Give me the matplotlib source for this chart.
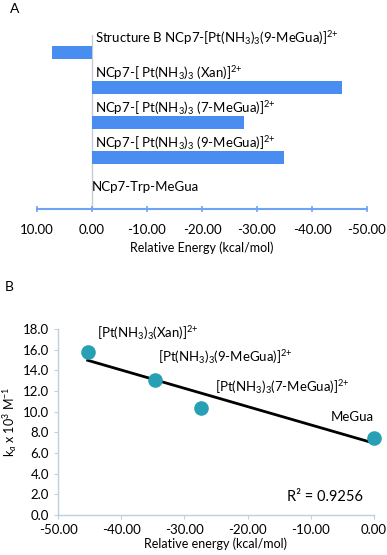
import numpy as np
import matplotlib
matplotlib.use("Agg")
import matplotlib.pyplot as plt

plt.rcParams['font.family'] = ['Lato', 'DejaVu Sans']
plt.rcParams['mathtext.fontset'] = 'custom'
plt.rcParams['mathtext.rm'] = 'Lato'
plt.rcParams['mathtext.it'] = 'Lato:italic'
plt.rcParams['mathtext.bf'] = 'Lato:bold'
plt.rcParams['axes.unicode_minus'] = False

# panel A data (top to bottom)
a_labels = [r"Structure B NCp7-[Pt(NH$_3$)$_3$(9-MeGua)]$^{2{+}}$",
            r"NCp7-[ Pt(NH$_3$)$_3$ (Xan)]$^{2{+}}$",
            r"NCp7-[ Pt(NH$_3$)$_3$ (7-MeGua)]$^{2{+}}$",
            r"NCp7-[ Pt(NH$_3$)$_3$ (9-MeGua)]$^{2{+}}$",
            "NCp7-Trp-MeGua"]
a_energy = [7.2, -45.5, -27.6, -34.9, 0.0]
a_ticks = [10, 0, -10, -20, -30, -40, -50]

# panel B data
b_energy = [-45.3, -34.7, -27.3, 0.0]
b_ka = [15.8, 13.1, 10.4, 7.5]
b_labels = [r"[Pt(NH$_3$)$_3$(Xan)]$^{2{+}}$",
            r"[Pt(NH$_3$)$_3$(9-MeGua)]$^{2{+}}$",
            r"[Pt(NH$_3$)$_3$(7-MeGua)]$^{2{+}}$",
            "MeGua"]
b_label_pos = [(-43.8, 17.6), (-34.2, 15.3), (-25.2, 12.4), (0.0, 9.5)]
b_label_ha = ['left', 'left', 'left', 'right']
r2_text = "R\u00b2 = 0.9256"

bar_col = '#4a8df0'
W, H = 387, 555
fig = plt.figure(figsize=(W / 100, H / 100), dpi=100)

# ---- panel A ----
axA = fig.add_axes([37 / W, 1 - 209 / H, 330 / W, 174 / H])
n = len(a_energy)
pos = np.arange(n)[::-1]
axA.barh(pos, a_energy, height=0.37, color=bar_col, zorder=2)
axA.axvline(0, color='#c5ccd4', lw=1.0, zorder=1)
axA.set_xlim(10, -50)
axA.set_ylim(-0.46, 4.51)
for p, lab in zip(pos, a_labels):
    if p == 0:
        axA.text(0.0, p + 0.17, lab, fontsize=9.5, ha='left', va='center')
    else:
        axA.text(-0.5, p + 0.42, lab, fontsize=9.5, ha='left', va='center')
for s in ['top', 'right', 'left']:
    axA.spines[s].set_visible(False)
axA.spines['bottom'].set_color('#6ea4f2')
axA.spines['bottom'].set_linewidth(1.5)
axA.set_yticks([])
axA.set_xticks(a_ticks)
axA.set_xticklabels(['%.2f' % t for t in a_ticks])
axA.tick_params(axis='x', direction='inout', length=5, width=1.2,
                color='#6ea4f2', labelsize=9.5, pad=8)
axA.set_xlabel("Relative Energy (kcal/mol)", fontsize=9, labelpad=4)
fig.text(10 / W, 1 - 9 / H, "A", fontsize=10, ha='left', va='center')

# ---- panel B ----
axB = fig.add_axes([58 / W, 1 - 515 / H, 316 / W, 186 / H])
slope, icpt = np.polyfit(b_energy, b_ka, 1)
xl = np.array([min(b_energy), max(b_energy)])
axB.plot(xl, slope * xl + icpt, color='black', lw=2, zorder=2)
axB.scatter(b_energy, b_ka, s=90, color='#27a0b5', zorder=3, clip_on=False)
for (x, y), lab, ha in zip(b_label_pos, b_labels, b_label_ha):
    axB.text(x, y, lab, fontsize=9.5, ha=ha, va='center')
axB.text(-13.8, 1.75, r2_text, fontsize=10.5, ha='left', va='center')
axB.set_xlim(-50, 0)
axB.set_ylim(0, 18)
axB.set_xticks(np.arange(-50, 1, 10))
axB.set_xticklabels(['%.2f' % t for t in np.arange(-50, 1, 10)])
axB.set_yticks(np.arange(0, 19, 2))
axB.set_yticklabels(['%.1f' % t for t in np.arange(0, 19, 2)])
for s in ['top', 'right']:
    axB.spines[s].set_visible(False)
for s in ['left', 'bottom']:
    axB.spines[s].set_color('#bcd0de')
    axB.spines[s].set_linewidth(1.0)
axB.tick_params(direction='out', length=3, color='#bcd0de', labelsize=9.5)
axB.set_xlabel("Relative energy (kcal/mol)", fontsize=9, labelpad=1)
axB.set_ylabel(r"k$_a$ x 10$^3$ M$^{-1}$", fontsize=9, labelpad=3)
fig.text(5 / W, 1 - 287 / H, "B", fontsize=10, ha='left', va='center')

fig.savefig("out.png", dpi=100)
